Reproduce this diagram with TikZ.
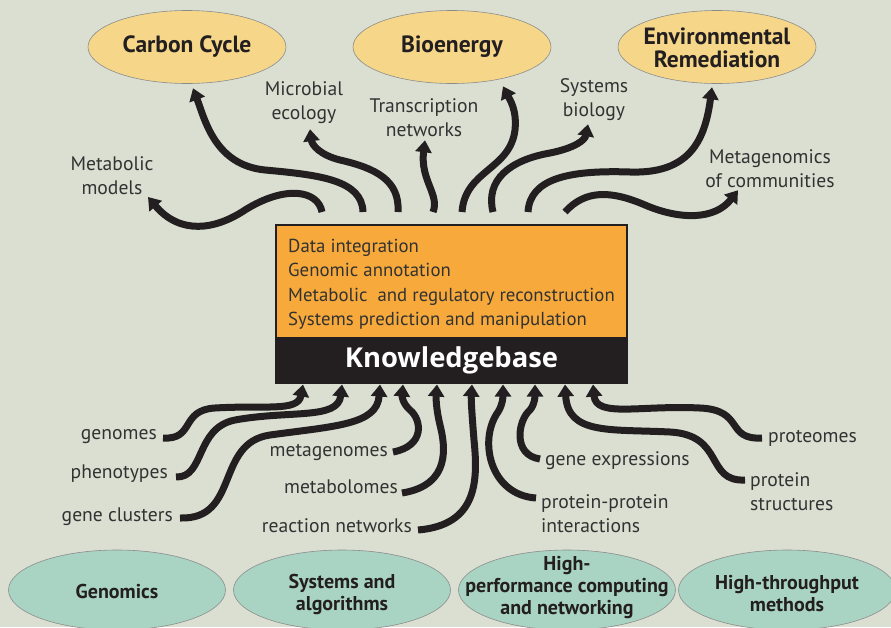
\documentclass[tikz,border=0pt]{standalone}
\usepackage{fontspec}
\setmainfont{PT Sans}
\newfontfamily\kbfont{Open Sans}
\usetikzlibrary{
  arrows.meta,
  positioning,
  shapes.geometric
}
\definecolor{paper}{RGB}{218,223,210}
\definecolor{topicfill}{RGB}{246,215,137}
\definecolor{methodfill}{RGB}{169,212,195}
\definecolor{kborange}{RGB}{247,170,59}
\definecolor{kbblack}{RGB}{35,31,32}
\definecolor{tagtext}{RGB}{50,50,50}

\begin{document}
\begin{tikzpicture}[x=1pt, y=-1pt,
  tag/.style = {font=\fontsize{19.6}{24}\selectfont, text=tagtext,
    inner sep=0pt, align=center},
  topic/.style = {shape=ellipse, draw=black!45, line width=0.6pt,
    fill=topicfill, minimum width=198pt, minimum height=73pt},
  topictext/.style = {align=center, inner sep=0pt, text=kbblack,
    font=\fontsize{23.5}{23.5}\selectfont\bfseries},
  method/.style = {shape=ellipse, draw=black!45, line width=0.6pt,
    fill=methodfill, minimum width=217pt, minimum height=80pt},
  methodtext/.style = {align=center, inner sep=0pt, text=kbblack,
    font=\fontsize{20}{22}\selectfont\bfseries},
  flow/.style = {line width=7pt, draw=kbblack,
    -{Triangle[length=12pt,width=16pt]}}]
  \useasboundingbox (0,0) rectangle (891,627);
  \clip (0,0) rectangle (891,627);
  \fill[paper] (0,0) rectangle (891,627);

  \node[topic] (cc) at (187,47) {};
  \node[topic] (be) at (452,47) {};
  \node[topic] (er) at (717,47) {};
  \node[topictext] (cc-t) at (cc) {Carbon Cycle};
  \node[topictext] (be-t) at (be) {Bioenergy};
  \node[topictext] (er-t) at (717,48) {Environmental\\Remediation};

  \node[draw=kbblack, line width=1.5pt, fill=kborange, outer sep=0pt,
    minimum width=351pt, minimum height=113pt,
    align=left, inner sep=0pt, text=tagtext,
    font=\fontsize{18.8}{24.5}\selectfont] (kb) at (451.5,281.5)
    {\rule{0pt}{19pt}Data integration\\Genomic annotation\\
     Metabolic\ \ and regulatory reconstruction\\
     Systems prediction and manipulation};
  \node[draw=kbblack, line width=1.5pt, fill=kbblack, outer sep=0pt,
    minimum width=351pt, minimum height=45pt, inner sep=0pt, text=white,
    font=\kbfont\fontsize{27.4}{29}\selectfont\bfseries, below=0pt of kb] (kbase)
    {Knowledgebase};

  \node[tag] (mm) at (112,176) {Metabolic\\models};
  \node[tag] (me) at (304,103) {Microbial\\ecology};
  \node[tag] (tn) at (424,118) {Transcription\\networks};
  \node[tag] (sb) at (594,100) {Systems\\biology};
  \node[tag] (mg) at (770,169) {Metagenomics\\of communities};

  \node[tag, anchor=base east] (gn) at (157,439) {genomes};
  \node[tag, anchor=base east] (ph) at (168,478) {phenotypes};
  \node[tag, anchor=base east] (gc) at (173,521) {gene clusters};
  \node[tag, anchor=base east] (mgn) at (388,456) {metagenomes};
  \node[tag, anchor=base east] (mb) at (398,493) {metabolomes};
  \node[tag, anchor=base east] (rn) at (412,532) {reaction networks};
  \node[tag, anchor=base west] (ge) at (545,465) {gene expressions};
  \node[tag, anchor=north west, align=left] (ppi) at (541,494)
    {protein-protein\\interactions};
  \node[tag, anchor=base west] (pt) at (768,442) {proteomes};
  \node[tag, anchor=north west, align=left] (ps) at (750,472)
    {protein\\structures};

  \node[method] (gx) at (117,590) {};
  \node[method] (sa) at (342,590) {};
  \node[method] (hp) at (567,590) {};
  \node[method] (ht) at (787,590) {};
  \node[methodtext] (gx-t) at (117,591) {Genomics};
  \node[methodtext] (sa-t) at (342,594) {Systems and\\algorithms};
  \node[methodtext] (hp-t) at (567,587) {High-\\performance computing\\and networking};
  \node[methodtext] (ht-t) at (787,594) {High-throughput\\methods};

  \foreach \i/\x in {1/322,2/363,3/398,4/433,5/462,6/493,7/528,8/565}
    \coordinate (t\i) at (\x,212);
  \foreach \i/\x in {1/303,2/342,3/380,4/403,5/437,6/472,7/503,8/535,9/565,10/593}
    \coordinate (b\i) at (\x,384.5);

  \draw[flow] (t1) .. controls (318,190) and (285,185) .. (245,210)
    .. controls (215,230) and (180,235) .. ([shift={(36pt,-21pt)}]mm.center);
  \draw[flow] (t2) .. controls (362,180) and (320,175) .. (265,170)
    .. controls (215,165) and (205,120) .. ([shift={(6pt,-4.5pt)}]cc.south);
  \draw[flow] (t3) .. controls (400,180) and (375,168) .. (340,160)
    .. controls (320,155) and (312,145) .. ([shift={(6pt,-5pt)}]me.south);
  \draw[flow] (t4) .. controls (440,195) and (420,180) .. ([shift={(1pt,-3pt)}]tn.south);
  \draw[flow] (t5) .. controls (465,170) and (510,170) .. (515,130)
    .. controls (517,110) and (510,100) .. ([shift={(51pt,-2.5pt)}]be.south);
  \draw[flow] (t6) .. controls (485,180) and (510,160) .. (550,153)
    .. controls (575,148) and (585,140) .. ([shift={(-6pt,-3pt)}]sb.south);
  \draw[flow] (t7) .. controls (530,178) and (570,170) .. (630,172)
    .. controls (690,174) and (705,140) .. ([shift={(-5pt,-3.5pt)}]er.south);
  \draw[flow] (t8) .. controls (585,190) and (610,190) .. (645,205)
    .. controls (680,220) and (715,220) .. ([shift={(-32pt,-2pt)}]mg.south);

  \draw[flow] ([shift={(6pt,1pt)}]gn.base east) .. controls (195,440) and (180,410) .. (215,408)
    .. controls (265,405) and (298,412) .. (b1);
  \draw[flow] ([shift={(8pt,1pt)}]ph.base east) .. controls (205,478) and (195,428) .. (235,420)
    .. controls (290,410) and (338,420) .. (b2);
  \draw[flow] ([shift={(7pt,3pt)}]gc.base east) .. controls (240,520) and (215,443) .. (270,435)
    .. controls (335,426) and (377,425) .. (b3);
  \draw[flow] ([shift={(5pt,4pt)}]mgn.base east) .. controls (425,446) and (422,420) .. (410,410)
    .. controls (402,403) and (402,395) .. (b4);
  \draw[flow] ([shift={(4pt,0pt)}]mb.base east) .. controls (452,485) and (445,445) .. (440,425)
    .. controls (436,408) and (436,398) .. (b5);
  \draw[flow] ([shift={(6pt,2pt)}]rn.base east) .. controls (478,525) and (478,480) .. (474,440)
    .. controls (472,415) and (471,400) .. (b6);
  \draw[flow] ([shift={(-5pt,-4pt)}]ppi.north west) .. controls (490,495) and (478,440) .. (498,412)
    .. controls (503,404) and (503,396) .. (b7);
  \draw[flow] ([shift={(-5pt,6pt)}]ge.base west) .. controls (512,455) and (518,420) .. (530,410)
    .. controls (535,404) and (535,396) .. (b8);
  \draw[flow] ([shift={(-5pt,-8pt)}]ps.north west) .. controls (705,482) and (725,435) .. (670,432)
    .. controls (610,429) and (568,435) .. (b9);
  \draw[flow] ([shift={(-6pt,4pt)}]pt.base west) .. controls (725,440) and (745,410) .. (700,408)
    .. controls (640,405) and (596,418) .. (b10);
\end{tikzpicture}
\end{document}
